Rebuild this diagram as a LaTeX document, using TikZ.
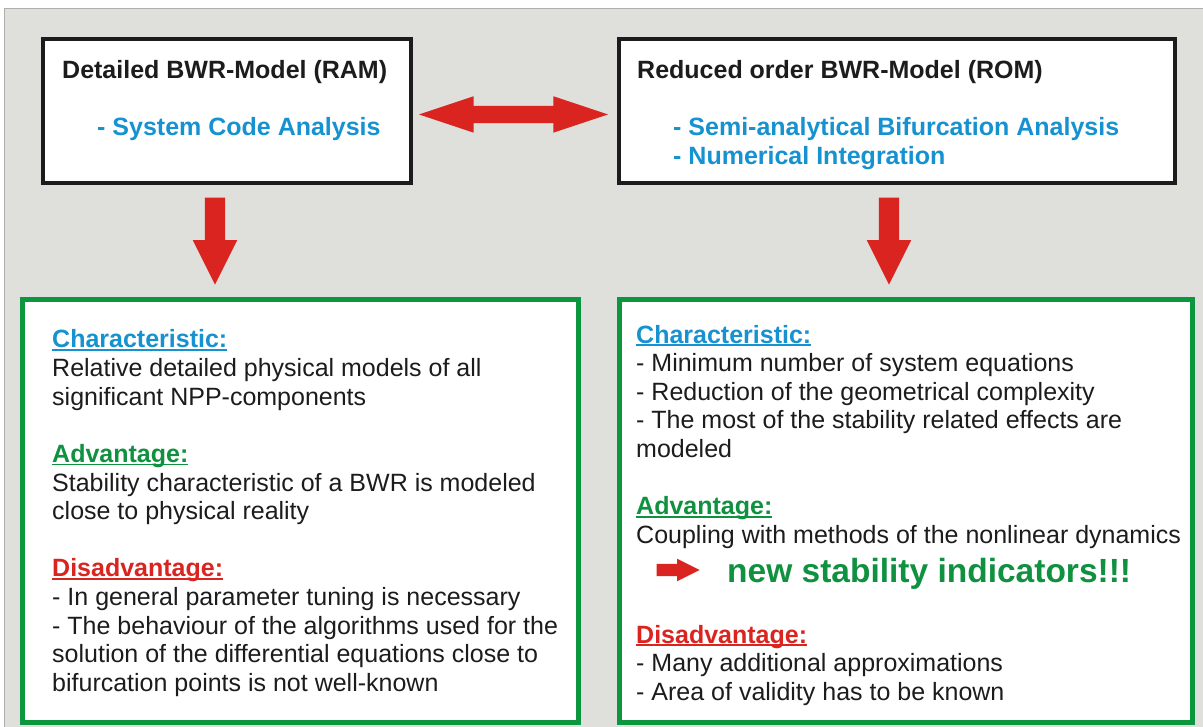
\documentclass[tikz,border=0pt]{standalone}
\usepackage{fontspec}
\setmainfont{Liberation Sans}
\usetikzlibrary{shapes.arrows}
\definecolor{bggray}{RGB}{223,223,219}
\definecolor{panelline}{RGB}{175,175,172}
\definecolor{hblue}{RGB}{22,146,208}
\definecolor{hgreen}{RGB}{16,145,64}
\definecolor{hred}{RGB}{218,36,32}
\definecolor{boxgreen}{RGB}{12,150,62}
\definecolor{ink}{RGB}{28,28,28}
\newcommand{\hul}[1]{\setbox0\hbox{#1}\rlap{\rule[-3pt]{\wd0}{1.8pt}}\box0}
\begin{document}
\begin{tikzpicture}[x=1pt,y=-1pt,
  blackbox/.style={draw=ink,line width=4pt,fill=white,inner sep=0pt},
  greenbox/.style={draw=boxgreen,line width=5pt,fill=white,inner sep=0pt},
  titletext/.style={anchor=base west,inner sep=0pt,text=ink,font=\fontsize{25}{28.6}\selectfont\bfseries},
  subtext/.style={anchor=base west,inner sep=0pt,align=left,text=hblue,font=\fontsize{25}{28.6}\selectfont\bfseries},
  bodytext/.style={anchor=base west,inner sep=0pt,align=left,text=ink,font=\fontsize{25}{28.6}\selectfont},
  redarrow/.style={single arrow,fill=hred,draw=none,inner xsep=0pt,single arrow head indent=0pt},
  downarrow/.style={redarrow,minimum height=87pt,inner ysep=10pt,single arrow head extend=12pt,single arrow tip angle=53.13,rotate=-90,anchor=tip},
]
\useasboundingbox (0,0) rectangle (1203,727);
% panel
\fill[white] (0,0) rectangle (1203,727);
\draw[fill=bggray,draw=panelline,line width=1pt] (4.5,8.5) rectangle (1206,730);

% top boxes
\node[blackbox,minimum width=368pt,minimum height=144pt] (ram) at (227,111) {};
\node[blackbox,minimum width=556pt,minimum height=144pt] (rom) at (897,111) {};

\node[titletext] (ramtitle) at (62,79) {Detailed BWR-Model (RAM)};
\node[subtext] (ramsub) at (97,136) {- System Code Analysis};

\node[titletext] (romtitle) at (637,79) {Reduced order BWR-Model (ROM)};
% base anchor of a multi-line node = baseline of its last line
\node[subtext] (romsub) at (673,164.6) {- Semi-analytical Bifurcation Analysis\\- Numerical Integration};

% bottom boxes
\node[greenbox,minimum width=556pt,minimum height=423pt] (ramprop) at (300.5,511) {};
\node[greenbox,minimum width=573pt,minimum height=423pt] (romprop) at (906,511) {};

% arrows between boxes
\node[redarrow,double arrow,minimum height=189pt,inner ysep=8.5pt,double arrow head extend=9.5pt,double arrow tip angle=36.87] (link) at (513.5,114.5) {};
\coordinate (ramtip) at (215,285);
\coordinate (romtip) at (889,285);
\node[downarrow] (ramdown) at (ramtip) {};
\node[downarrow] (romdown) at (romtip) {};

% left properties
\node[bodytext] (lchar) at (52,405.2) {\textcolor{hblue}{\bfseries\hul{Characteristic:}}\\Relative detailed physical models of all\\significant NPP-components};
\node[bodytext] (ladv) at (52,519.6) {\textcolor{hgreen}{\bfseries\hul{Advantage:}}\\Stability characteristic of a BWR is modeled\\close to physical reality};
\node[bodytext] (ldis) at (52,691.2) {\textcolor{hred}{\bfseries\hul{Disadvantage:}}\\- In general parameter tuning is necessary\\- The behaviour of the algorithms used for the\\solution of the differential equations close to\\bifurcation points is not well-known};

% right properties
\node[bodytext] (rchar) at (636,457.4) {\textcolor{hblue}{\bfseries\hul{Characteristic:}}\\- Minimum number of system equations\\- Reduction of the geometrical complexity\\- The most of the stability related effects are\\modeled};
\node[bodytext] (radv) at (636,543.2) {\textcolor{hgreen}{\bfseries\hul{Advantage:}}\\Coupling with methods of the nonlinear dynamics};
\coordinate (newtip) at (700,570);
\node[redarrow,minimum height=43pt,inner ysep=6pt,single arrow head extend=5pt,single arrow tip angle=53.13,anchor=tip] (newarrow) at (newtip) {};
\node[anchor=base west,inner sep=0pt,text=hgreen,font=\fontsize{33.5}{36}\selectfont\bfseries] (newind) at (727,582) {new stability indicators!!!};
\node[bodytext] (rdis) at (636,700.2) {\textcolor{hred}{\bfseries\hul{Disadvantage:}}\\- Many additional approximations\\- Area of validity has to be known};
\end{tikzpicture}
\end{document}
